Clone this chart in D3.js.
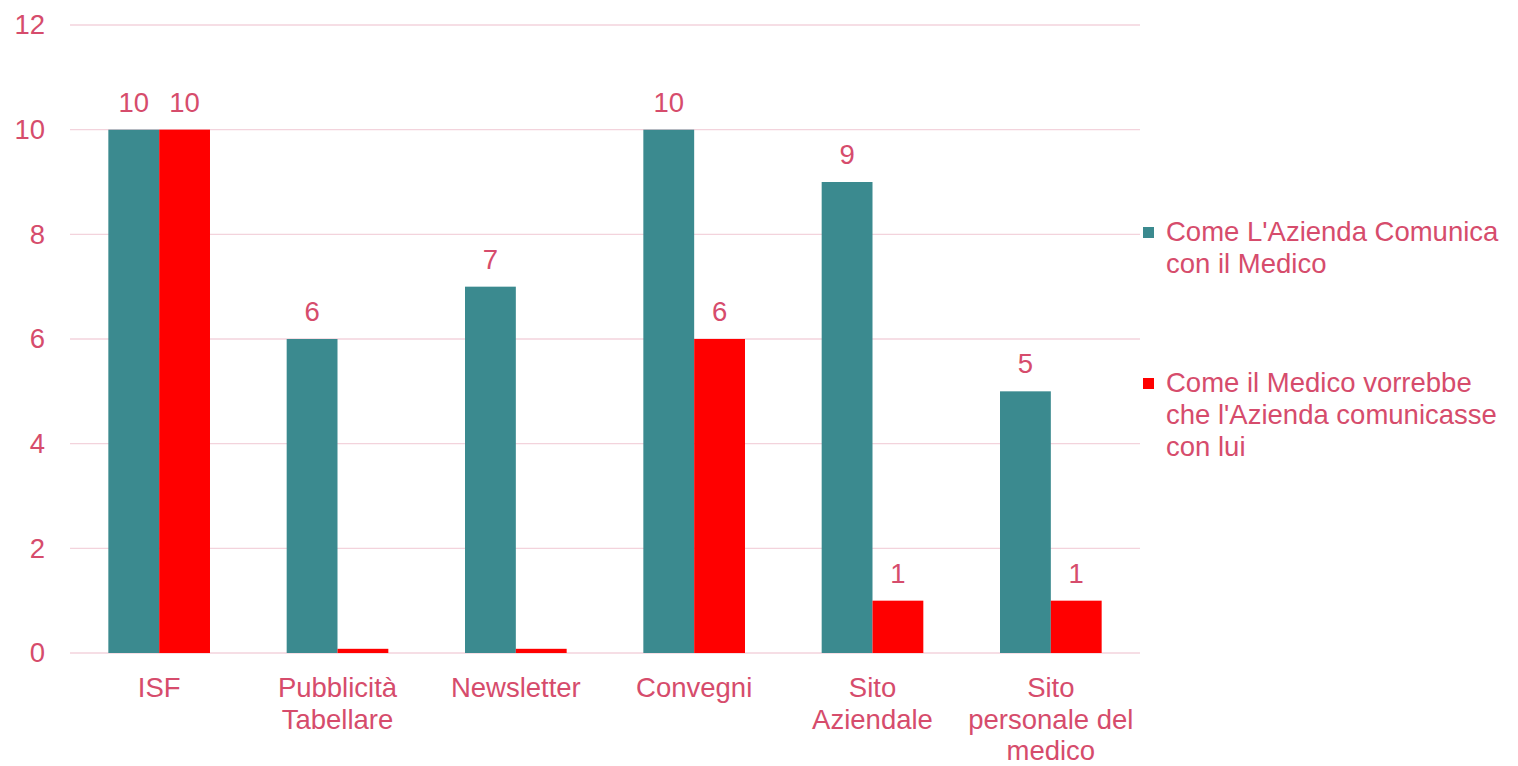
<!DOCTYPE html>
<html lang="it">
<head>
<meta charset="utf-8">
<script src="https://d3js.org/d3.v7.min.js"></script>
<style>
  body { margin: 0; background: #fff; }
  svg { display: block; font-family: "Liberation Sans", Arial, sans-serif; }
</style>
</head>
<body>
<svg id="chart" width="1518" height="766"></svg>
<script>
// categories and series
const categories = [
  ['ISF'],
  ['Pubblicità', 'Tabellare'],
  ['Newsletter'],
  ['Convegni'],
  ['Sito', 'Aziendale'],
  ['Sito', 'personale del', 'medico']
];
const seriesNames = [
  ['Come L\'Azienda Comunica', 'con il Medico'],
  ['Come il Medico vorrebbe', 'che l\'Azienda comunicasse', 'con lui']
];
const aziendaValues = [10, 6, 7, 10, 9, 5];
const medicoValues = [10, 0.08, 0.08, 6, 1, 1];
const medicoLabels = ['10', '', '', '6', '1', '1'];
const aziendaLabels = ['10', '6', '7', '10', '9', '5'];
const yTicks = [0, 2, 4, 6, 8, 10, 12];

const textColor = '#d64c6c';
const gridColor = '#f3d3dc';
const colors = ['#3b8a8f', '#ff0000'];
const fontSize = '27.5px';

const svg = d3.select('#chart');
const plotLeft = 70, plotRight = 1140, plotTop = 25, plotBottom = 653;

const x0 = d3.scaleBand()
  .domain(d3.range(categories.length))
  .range([plotLeft, plotRight])
  .paddingInner(0.43)
  .paddingOuter(0.215);
const x1 = d3.scaleBand().domain([0, 1]).range([0, x0.bandwidth()]);
const y = d3.scaleLinear().domain([0, 12]).range([plotBottom, plotTop]);

// gridlines
svg.append('g').selectAll('line').data(yTicks).join('line')
  .attr('x1', plotLeft).attr('x2', plotRight)
  .attr('y1', d => y(d)).attr('y2', d => y(d))
  .attr('stroke', gridColor).attr('stroke-width', 1.3);

// y axis labels
const yAxis = svg.append('g')
  .attr('transform', `translate(${plotLeft - 25},0)`)
  .call(d3.axisLeft(y).tickValues(yTicks).tickSize(0).tickPadding(0));
yAxis.select('.domain').remove();
yAxis.selectAll('text')
  .attr('fill', textColor)
  .style('font-size', fontSize)
  .style('font-family', '"Liberation Sans", Arial, sans-serif');

const series = [
  { values: aziendaValues, labels: aziendaLabels },
  { values: medicoValues, labels: medicoLabels }
];

series.forEach((s, si) => {
  const g = svg.append('g');
  g.selectAll('rect').data(s.values).join('rect')
    .attr('x', (d, i) => x0(i) + x1(si))
    .attr('width', x1.bandwidth())
    .attr('y', d => y(d))
    .attr('height', d => plotBottom - y(d))
    .attr('fill', colors[si]);
  g.selectAll('text').data(s.values).join('text')
    .attr('x', (d, i) => x0(i) + x1(si) + x1.bandwidth() / 2)
    .attr('y', d => y(d) - 18)
    .attr('text-anchor', 'middle')
    .attr('fill', textColor)
    .style('font-size', fontSize)
    .text((d, i) => s.labels[i]);
});

// category labels
const xl = svg.append('g');
categories.forEach((lines, i) => {
  const t = xl.append('text')
    .attr('text-anchor', 'middle')
    .attr('fill', textColor)
    .style('font-size', fontSize);
  lines.forEach((ln, j) => {
    t.append('tspan')
      .attr('x', x0(i) + x0.bandwidth() / 2)
      .attr('y', plotBottom + 44 + j * 31.5)
      .text(ln);
  });
});

// legend
const legendY = [232, 383];
seriesNames.forEach((lines, si) => {
  svg.append('rect')
    .attr('x', 1143).attr('y', legendY[si] - 5)
    .attr('width', 11).attr('height', 11)
    .attr('fill', colors[si]);
  const t = svg.append('text')
    .attr('fill', textColor)
    .style('font-size', fontSize);
  lines.forEach((ln, j) => {
    t.append('tspan')
      .attr('x', 1166)
      .attr('y', legendY[si] + 9 + j * 32)
      .text(ln);
  });
});
</script>
</body>
</html>
